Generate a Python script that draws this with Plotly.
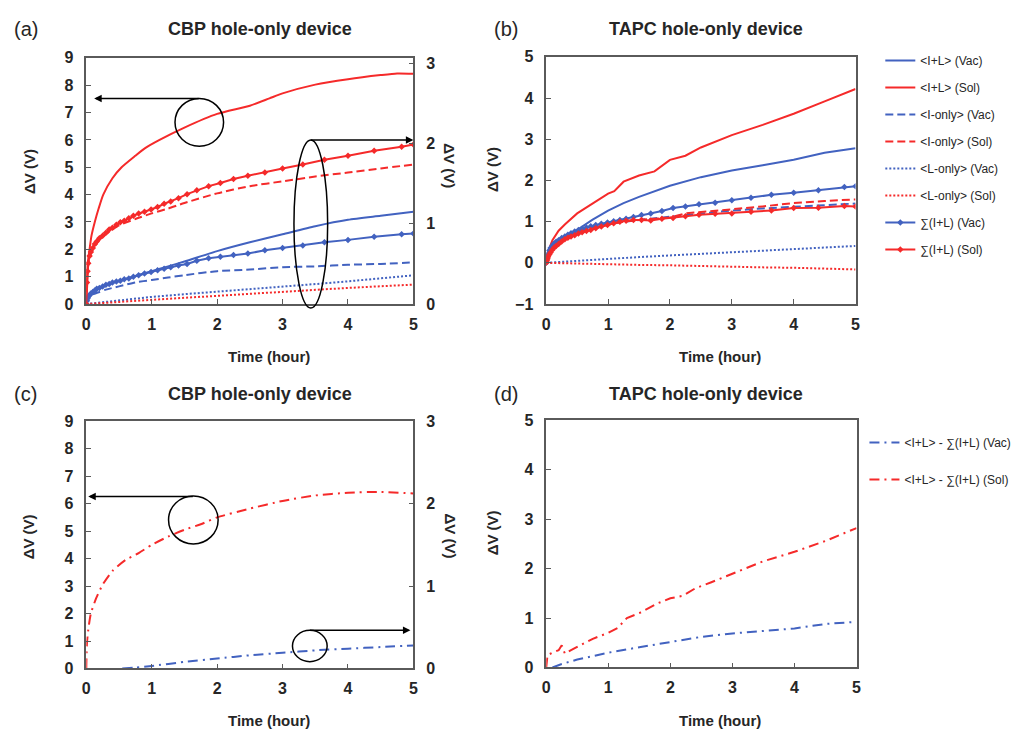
import plotly.graph_objects as go

W, H = 1034, 740
BLUE = "#4262c0"
RED = "#f52a2a"
FRAME = "#5a5a5a"
TXT = "#262626"
FONT = "Arial, Liberation Sans, sans-serif"
DASH = "8px,4px"
DOT = "2px,2px"
DASHDOT = "10px,5px,2px,5px"

# ---------------- data ----------------
# time samples (hour)
t_sum = [0, 0.01, 0.02, 0.03, 0.05, 0.07, 0.1, 0.13, 0.16, 0.2, 0.25, 0.3, 0.35, 0.4, 0.46,
         0.52, 0.58, 0.65, 0.72, 0.8, 0.89, 0.99, 1.09, 1.19, 1.29, 1.41, 1.54, 1.69, 1.87,
         2.05, 2.25, 2.47, 2.73, 3.0, 3.31, 3.64, 4.0, 4.4, 4.82, 5.0]
t_std = [0, 0.01, 0.02, 0.05, 0.1, 0.2, 0.3, 0.5, 0.75, 1, 1.25, 1.5, 2, 2.5, 3, 3.5, 4, 4.5, 5]
t_L = [0, 0.25, 0.5, 1, 1.5, 2, 2.5, 3, 3.5, 4, 4.5, 5]

# (a) CBP: <I+L>(Sol) on left axis, the rest on right axis
t_a_il = [0, 0.01, 0.02, 0.05, 0.08, 0.13, 0.19, 0.26, 0.4, 0.54, 0.75, 0.9, 1.12, 1.5, 2,
          2.5, 2.8, 3, 3.5, 4, 4.5, 4.75, 5]
a_il_sol = [0, 1.0, 1.45, 2.0, 2.5, 3.0, 3.5, 4.0, 4.6, 5.0, 5.42, 5.7, 6.0, 6.45, 6.95,
            7.25, 7.52, 7.7, 8.02, 8.22, 8.37, 8.43, 8.42]
a_il_vac = [0, 0.04, 0.07, 0.11, 0.15, 0.20, 0.24, 0.29, 0.35, 0.41, 0.47, 0.53, 0.66, 0.77,
            0.87, 0.97, 1.05, 1.10, 1.15]
a_i_vac = [0, 0.03, 0.05, 0.09, 0.12, 0.15, 0.18, 0.22, 0.27, 0.30, 0.33, 0.36, 0.41, 0.43,
           0.46, 0.47, 0.49, 0.50, 0.52]
a_i_sol = [0, 0.27, 0.41, 0.59, 0.68, 0.80, 0.87, 0.98, 1.06, 1.13, 1.19, 1.26, 1.38, 1.47,
           1.53, 1.59, 1.64, 1.69, 1.74]
a_l_vac = [0, 0.024, 0.048, 0.089, 0.123, 0.153, 0.184, 0.215, 0.249, 0.283, 0.321, 0.358]
a_l_sol = [0, 0.014, 0.027, 0.051, 0.078, 0.102, 0.13, 0.153, 0.177, 0.201, 0.222, 0.242]
a_sum_vac = [0, 0.04, 0.07, 0.09, 0.11, 0.13, 0.15, 0.17, 0.19, 0.20, 0.22, 0.24, 0.25, 0.27,
             0.28, 0.29, 0.31, 0.32, 0.34, 0.36, 0.38, 0.40, 0.42, 0.44, 0.46, 0.48, 0.50,
             0.54, 0.57, 0.59, 0.61, 0.63, 0.67, 0.70, 0.73, 0.77, 0.80, 0.84, 0.87, 0.88]
a_sum_sol = [0, 0.27, 0.41, 0.51, 0.60, 0.65, 0.70, 0.75, 0.78, 0.82, 0.85, 0.89, 0.93, 0.95,
             0.99, 1.02, 1.04, 1.07, 1.10, 1.13, 1.15, 1.18, 1.21, 1.25, 1.28, 1.32, 1.37,
             1.42, 1.47, 1.51, 1.56, 1.60, 1.64, 1.69, 1.74, 1.80, 1.85, 1.91, 1.96, 1.99]

# (b) TAPC
t_b_il = [0, 0.02, 0.05, 0.1, 0.2, 0.3, 0.5, 0.75, 1, 1.1, 1.25, 1.5, 1.75, 2, 2.25, 2.5,
          2.75, 3, 3.5, 4, 4.5, 5]
b_il_sol = [0, 0.2, 0.35, 0.55, 0.78, 0.93, 1.2, 1.45, 1.68, 1.74, 1.97, 2.12, 2.22, 2.5,
            2.6, 2.8, 2.95, 3.1, 3.35, 3.62, 3.92, 4.22]
b_il_vac = [0, 0.1, 0.15, 0.25, 0.35, 0.5, 0.6, 0.82, 1.05, 1.27, 1.45, 1.6, 1.87, 2.08,
            2.24, 2.37, 2.5, 2.67, 2.78]
t_b_i = [0, 0.02, 0.05, 0.1, 0.2, 0.3, 0.5, 0.75, 1, 1.25, 1.5, 2, 2.25, 2.5, 3, 3.5, 4, 4.5, 5]
b_i_vac = [0, 0.15, 0.27, 0.38, 0.52, 0.61, 0.76, 0.87, 0.95, 1.0, 1.04, 1.12, 1.16, 1.2,
           1.27, 1.32, 1.36, 1.4, 1.44]
b_i_sol = [0, 0.1, 0.2, 0.32, 0.46, 0.57, 0.7, 0.85, 0.93, 1.0, 1.04, 1.1, 1.2, 1.23, 1.3,
           1.37, 1.45, 1.5, 1.54]
t_b_L = [0, 0.5, 1, 1.5, 2, 2.5, 3, 3.5, 4, 4.5, 5]
b_l_vac = [0, 0.05, 0.09, 0.14, 0.18, 0.22, 0.26, 0.3, 0.34, 0.37, 0.41]
b_l_sol = [0, -0.02, -0.03, -0.05, -0.06, -0.08, -0.09, -0.11, -0.12, -0.14, -0.16]
b_sum_vac = [0, 0.1, 0.17, 0.22, 0.3, 0.36, 0.42, 0.47, 0.51, 0.55, 0.6, 0.64, 0.68, 0.72,
             0.76, 0.8, 0.83, 0.86, 0.89, 0.92, 0.95, 0.98, 1.01, 1.04, 1.07, 1.11, 1.16,
             1.2, 1.26, 1.33, 1.37, 1.42, 1.46, 1.52, 1.58, 1.65, 1.70, 1.76, 1.84, 1.86]
b_sum_sol = [0, 0.05, 0.1, 0.15, 0.2, 0.25, 0.32, 0.37, 0.41, 0.46, 0.52, 0.57, 0.61, 0.64,
             0.67, 0.71, 0.74, 0.77, 0.8, 0.84, 0.88, 0.92, 0.96, 1.0, 1.02, 1.04, 1.04,
             1.03, 1.07, 1.09, 1.13, 1.17, 1.19, 1.2, 1.24, 1.27, 1.33, 1.34, 1.38, 1.37]

# (c) CBP difference: Sol on left axis, Vac on right axis
t_c_sol = [0, 0.01, 0.03, 0.07, 0.15, 0.25, 0.4, 0.6, 0.8, 1, 1.25, 1.5, 1.75, 2, 2.5, 3,
           3.5, 4, 4.5, 5]
c_sol = [0, 0.9, 1.4, 2.0, 2.55, 3.05, 3.55, 3.95, 4.2, 4.5, 4.8, 5.05, 5.25, 5.5, 5.82,
         6.1, 6.3, 6.4, 6.43, 6.37]
t_c_vac = [0.55, 0.75, 1, 1.5, 2, 2.5, 3, 3.5, 4, 4.5, 5]
c_vac = [0, 0.01, 0.03, 0.08, 0.12, 0.16, 0.19, 0.22, 0.24, 0.26, 0.28]

# (d) TAPC difference
t_d_sol = [0, 0.02, 0.1, 0.2, 0.25, 0.3, 0.4, 0.5, 0.75, 1, 1.15, 1.3, 1.5, 1.8, 2, 2.2,
           2.4, 2.65, 3, 3.5, 4, 4.5, 5]
d_sol = [0, 0.25, 0.3, 0.35, 0.45, 0.28, 0.35, 0.42, 0.58, 0.7, 0.8, 1.0, 1.1, 1.3, 1.4,
         1.45, 1.6, 1.72, 1.9, 2.15, 2.34, 2.56, 2.82]
t_d_vac = [0.1, 0.25, 0.5, 0.75, 1, 1.5, 2, 2.5, 3, 3.5, 4, 4.5, 4.95]
d_vac = [0, 0.07, 0.16, 0.23, 0.3, 0.41, 0.52, 0.62, 0.69, 0.74, 0.79, 0.88, 0.92]

x_ticks = [0, 1, 2, 3, 4, 5]

# ---------------- helpers ----------------
def PX(x):
    return x / W


def PY(y):
    return 1 - y / H


fig = go.Figure()


def line(x, y, color, dash, xa, ya, name=None, legend=None, markers=False, smooth=False):
    fig.add_trace(go.Scatter(
        x=x, y=y, xaxis=xa, yaxis=ya, name=name,
        mode="lines+markers" if markers else "lines",
        line=dict(color=color, width=2, dash=dash,
                  shape="spline" if smooth else "linear", smoothing=0.6),
        marker=dict(symbol="diamond", size=5, color=color),
        showlegend=legend is not None, legend=legend or "legend",
        legendgroup=name, cliponaxis=True,
    ))


# (a)
line(t_a_il, a_il_sol, RED, "solid", "x", "y", smooth=True)
line(t_std, a_il_vac, BLUE, "solid", "x", "y2", smooth=True)
line(t_std, a_i_vac, BLUE, DASH, "x", "y2", smooth=True)
line(t_std, a_i_sol, RED, DASH, "x", "y2", smooth=True)
line(t_L, a_l_vac, BLUE, DOT, "x", "y2")
line(t_L, a_l_sol, RED, DOT, "x", "y2")
line(t_sum, a_sum_vac, BLUE, "solid", "x", "y2", markers=True)
line(t_sum, a_sum_sol, RED, "solid", "x", "y2", markers=True)

# (b)
line(t_std, b_il_vac, BLUE, "solid", "x2", "y3", "&lt;I+L&gt; (Vac)", "legend")
line(t_b_il, b_il_sol, RED, "solid", "x2", "y3", "&lt;I+L&gt; (Sol)", "legend")
line(t_b_i, b_i_vac, BLUE, DASH, "x2", "y3", "&lt;I-only&gt; (Vac)", "legend")
line(t_b_i, b_i_sol, RED, DASH, "x2", "y3", "&lt;I-only&gt; (Sol)", "legend")
line(t_b_L, b_l_vac, BLUE, DOT, "x2", "y3", "&lt;L-only&gt; (Vac)", "legend")
line(t_b_L, b_l_sol, RED, DOT, "x2", "y3", "&lt;L-only&gt; (Sol)", "legend")
line(t_sum, b_sum_vac, BLUE, "solid", "x2", "y3", "∑(I+L) (Vac)", "legend", markers=True)
line(t_sum, b_sum_sol, RED, "solid", "x2", "y3", "∑(I+L) (Sol)", "legend", markers=True)

# (c)
line(t_c_sol, c_sol, RED, DASHDOT, "x3", "y4", smooth=True)
line(t_c_vac, c_vac, BLUE, DASHDOT, "x3", "y5", smooth=True)

# (d)
line(t_d_vac, d_vac, BLUE, DASHDOT, "x4", "y6", "&lt;I+L&gt; - ∑(I+L) (Vac)", "legend2")
line(t_d_sol, d_sol, RED, DASHDOT, "x4", "y6", "&lt;I+L&gt; - ∑(I+L) (Sol)", "legend2")

tickfont = dict(family=FONT, size=16, color=TXT, weight="bold")


def xax(l, r, anchor):
    return dict(domain=[PX(l), PX(r)], anchor=anchor, range=[0, 5], tickvals=x_ticks,
                showline=True, linecolor=FRAME, linewidth=1.5, mirror=True,
                ticks="inside", ticklen=5, tickcolor=FRAME, showgrid=False, zeroline=False,
                tickfont=tickfont, ticklabelstandoff=5)


def yax(t, b, anchor, rng, dtick, side="left", overlay=None):
    d = dict(anchor=anchor, range=rng, dtick=dtick, side=side,
             showline=True, linecolor=FRAME, linewidth=1.5, mirror=(overlay is None),
             ticks="inside", ticklen=5, tickcolor=FRAME, showgrid=False, zeroline=False,
             tickfont=tickfont, ticklabelstandoff=8)
    if overlay:
        d["overlaying"] = overlay
    else:
        d["domain"] = [PY(b), PY(t)]
    return d


fig.update_layout(
    width=W, height=H, margin=dict(l=0, r=0, t=0, b=0),
    paper_bgcolor="white", plot_bgcolor="white",
    font=dict(family=FONT, color=TXT),
    xaxis=xax(83, 413, "y"),
    yaxis=yax(51, 303, "x", [0, 9], 1),
    yaxis2=yax(51, 303, "x", [0, 3.07], 1, side="right", overlay="y"),
    xaxis2=xax(547, 859, "y3"),
    yaxis3=yax(50, 303, "x2", [-1, 5], 1),
    xaxis3=xax(83, 413, "y4"),
    yaxis4=yax(423, 676, "x3", [0, 9], 1),
    yaxis5=yax(423, 676, "x3", [0, 3], 1, side="right", overlay="y4"),
    xaxis4=xax(547, 860, "y6"),
    yaxis6=yax(422, 675, "x4", [0, 5], 1),
    legend=dict(x=PX(884), y=PY(39), xanchor="left", yanchor="top",
                font=dict(family=FONT, size=12, color=TXT), tracegroupgap=8,
                bgcolor="rgba(0,0,0,0)", itemwidth=30),
    legend2=dict(x=PX(868), y=PY(430), xanchor="left", yanchor="top",
                 font=dict(family=FONT, size=12, color=TXT), tracegroupgap=18,
                 bgcolor="rgba(0,0,0,0)", itemwidth=30),
)

ann = []


def text(x, y, s, size, bold=False, angle=0, xanchor="center"):
    ann.append(dict(x=PX(x), y=PY(y), xref="paper", yref="paper", text=s, showarrow=False,
                    xanchor=xanchor, yanchor="middle", textangle=angle,
                    font=dict(family=FONT, size=size, color=TXT,
                              weight="bold" if bold else "normal")))


# panel letters and titles
for lx, ly, lab, tx, title in [(8, 22, "(a)", 258, "CBP hole-only device"),
                               (492, 22, "(b)", 708, "TAPC hole-only device"),
                               (8, 395, "(c)", 258, "CBP hole-only device"),
                               (492, 395, "(d)", 708, "TAPC hole-only device")]:
    text(lx, ly, lab, 20, xanchor="left")
    text(tx, ly, title, 18, bold=True)

# axis titles
for x, y in [(267, 357), (722, 357), (267, 729), (722, 729)]:
    text(x, y, "Time (hour)", 15, bold=True)
for x, y in [(25, 167), (493, 165), (25, 541), (493, 537)]:
    text(x, y, "ΔV (V)", 15, bold=True, angle=-90)
for x, y in [(450, 161), (450, 540)]:
    text(x, y, "ΔV (V)", 15, bold=True, angle=90)


def arrow(x_head, x_tail, y):
    ann.append(dict(x=PX(x_head), y=PY(y), xref="paper", yref="paper", text="",
                    showarrow=True, axref="pixel", ayref="pixel", ax=x_tail - x_head, ay=0,
                    arrowhead=2, arrowsize=1, arrowwidth=1.5, arrowcolor="black"))


arrow(91, 197, 92.5)
arrow(413, 309, 135)
arrow(85, 191, 500)
arrow(410, 308, 637)

fig.update_layout(annotations=ann)


def ellipse(cx, cy, rx, ry):
    fig.add_shape(type="circle", xref="paper", yref="paper",
                  x0=PX(cx - rx), x1=PX(cx + rx), y0=PY(cy + ry), y1=PY(cy - ry),
                  line=dict(color="black", width=1.5))


ellipse(197, 117, 24.5, 24.5)
ellipse(309.5, 221, 17, 86)
ellipse(191, 524, 25, 24.5)
ellipse(308.5, 653, 17.5, 16)

fig.write_html("out.html")
